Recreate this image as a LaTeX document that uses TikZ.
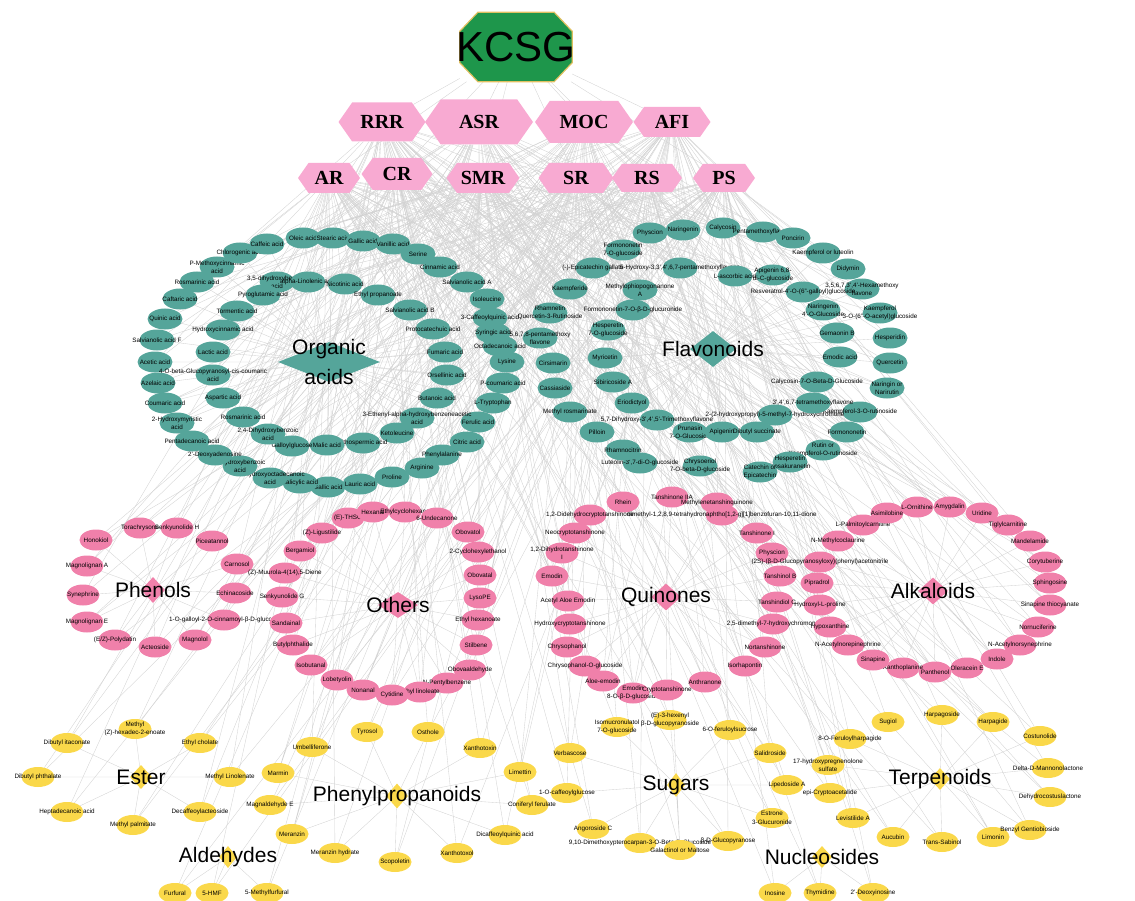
\documentclass[tikz,border=0pt]{standalone}
\usepackage{fontspec}
\setmainfont{Liberation Sans}
\newfontfamily\herbfont{Liberation Serif}
\usetikzlibrary{shapes.geometric,shapes.symbols}

\pgfdeclarelayer{edges}
\pgfsetlayers{edges,main}

\definecolor{kcsggreen}{HTML}{1E964B}
\definecolor{kcsgedge}{HTML}{E0C060}
\definecolor{herbpink}{HTML}{F8AAD2}
\definecolor{tealc}{HTML}{55A59A}
\definecolor{pinkc}{HTML}{F080AA}
\definecolor{yellowc}{HTML}{FAD84A}
\definecolor{linkgray}{HTML}{D2D2D2}

\tikzset{
    link/.style={draw=linkgray,line width=0.35pt},
    herb/.style={signal,signal to=east and west,signal pointer angle=110,
        fill=herbpink,inner sep=0pt,
        font=\herbfont\fontsize{20}{20}\selectfont\bfseries},
    hub/.style={diamond,inner sep=0pt},
    hublabel/.style={font=\fontsize{21}{30}\selectfont,align=center,inner sep=0pt},
    cmpd/.style={ellipse,inner sep=0pt,minimum width=35,minimum height=21},
    tealcmpd/.style={cmpd,fill=tealc},
    pinkcmpd/.style={cmpd,minimum width=33,fill=pinkc},
    yellowcmpd/.style={cmpd,minimum width=33,minimum height=20,fill=yellowc},
    cmpdlabel/.style={font=\fontsize{6.3}{8.5}\selectfont,align=center,inner sep=0pt},
}

% #1 style, #2 prefix, #3 class hub, #4 herb offset, #5 x/y/name list
\newcommand{\cmpdring}[5]{%
    \foreach \x/\y/\t [count=\i] in {#5}{%
        \node[#1,label={[cmpdlabel]center:\t}] (#2\i) at (\x,\y) {};
        \pgfmathtruncatemacro\ha{mod(\i+#4,10)}
        \pgfmathtruncatemacro\hb{mod(3*\i+#4+5,10)}
        \begin{pgfonlayer}{edges}
            \draw[link] (#2\i) -- (#3) (#2\i) -- (h\ha) (#2\i) -- (h\hb);
        \end{pgfonlayer}
    }%
}

\begin{document}
\begin{tikzpicture}[x=1pt,y=-1pt]
\useasboundingbox (0,0) rectangle (1135,901);

% Formula (octagon round the named node)
\node[minimum width=112,minimum height=69,inner sep=0pt] (kcsg) at (516,47) {};
\draw[fill=kcsggreen,draw=kcsgedge,line width=1.2pt]
    ([xshift=18]kcsg.north west) -- ([xshift=-18]kcsg.north east)
    -- ([yshift=-19]kcsg.north east) -- ([yshift=19]kcsg.south east)
    -- ([xshift=-18]kcsg.south east) -- ([xshift=18]kcsg.south west)
    -- ([yshift=19]kcsg.south west) -- ([yshift=-19]kcsg.north west) -- cycle;
\node[font=\fontsize{42}{42}\selectfont] at (kcsg) {KCSG};

% Herbs
\node[herb,minimum width=87,minimum height=39] (h0) at (382,122) {RRR};
\node[herb,minimum width=108,minimum height=45] (h1) at (479,122) {ASR};
\node[herb,minimum width=98,minimum height=42] (h2) at (584,122) {MOC};
\node[herb,minimum width=77,minimum height=30] (h3) at (672,122) {AFI};
\node[herb,minimum width=62,minimum height=30] (h4) at (329,178) {AR};
\node[herb,minimum width=71,minimum height=32] (h5) at (397,174) {CR};
\node[herb,minimum width=73,minimum height=30] (h6) at (483,178) {SMR};
\node[herb,minimum width=75,minimum height=30] (h7) at (576,178) {SR};
\node[herb,minimum width=70,minimum height=28] (h8) at (647,178) {RS};
\node[herb,minimum width=62,minimum height=28] (h9) at (724,178) {PS};

\begin{pgfonlayer}{edges}
    \foreach \h in {0,...,9}
        \draw[link] (kcsg) -- (h\h);
\end{pgfonlayer}

% Classes
\node[hub,fill=tealc,minimum width=102,minimum height=40,
    label={[hublabel]center:Organic\\acids}] (orga) at (329,362) {};
\node[hub,fill=tealc,minimum width=46,minimum height=36,
    label={[hublabel]center:Flavonoids}] (flav) at (713,349) {};
\node[hub,fill=pinkc,minimum width=24,minimum height=26,
    label={[hublabel]center:Phenols}] (phen) at (153,590) {};
\node[hub,fill=pinkc,minimum width=40,minimum height=26,
    label={[hublabel]center:Others}] (othr) at (398,605) {};
\node[hub,fill=pinkc,minimum width=30,minimum height=27,
    label={[hublabel]center:Quinones}] (quin) at (666,597) {};
\node[hub,fill=pinkc,minimum width=30,minimum height=27,
    label={[hublabel]center:Alkaloids}] (alka) at (933,591) {};
\node[hub,fill=yellowc,minimum width=22,minimum height=24,
    label={[hublabel]center:Ester}] (este) at (141,777) {};
\node[hub,fill=yellowc,minimum width=22,minimum height=25,
    label={[hublabel]center:Phenylpropanoids}] (phpr) at (397,796) {};
\node[hub,fill=yellowc,minimum width=18,minimum height=22,
    label={[hublabel]center:Aldehydes}] (alde) at (228,857) {};
\node[hub,fill=yellowc,minimum width=18,minimum height=24,
    label={[hublabel]center:Sugars}] (suga) at (676,785) {};
\node[hub,fill=yellowc,minimum width=20,minimum height=22,
    label={[hublabel]center:Terpenoids}] (terp) at (940,779) {};
\node[hub,fill=yellowc,minimum width=20,minimum height=22,
    label={[hublabel]center:Nucleosides}] (nucl) at (822,857) {};

% Organic acids
\cmpdring{tealcmpd}{oa}{orga}{0}{
    303/238/Oleic acid, 333/238/Stearic acid, 363/241/Gallic acid,
    393/244/Vanillic acid, 418/254/Serine, 440/267/Cinnamic acid,
    467/282/Salvianolic acid A, 487/299/Isoleucine, 490/318/3-Caffeoylquinic acid,
    493/333/Syringic acid, 500/346/Octadecanoic acid, 507/362/Lysine,
    503/383/P-coumaric acid, 493/403/L-Tryptophan, 478/422/Ferulic acid,
    467/442/Citric acid, 442/455/Phenylalanine, 422/468/Arginine,
    392/477/Proline, 360/484/Lauric acid, 328/487/Gallic acid,
    300/483/Salicylic acid, 270/478/{10-Hydroxyoctadecanoic\\acid},
    240/466/{4-Hydroxybenzoic\\acid}, 215/455/2'-Deoxyadenosine,
    192/441/Pentadecanoic acid, 177/423/{2-Hydroxymyristic\\acid},
    165/403/Coumaric acid, 158/383/Azelaic acid, 155/362/Acetic acid,
    157/340/Salvianolic acid F, 165/319/Quinic acid, 180/299/Caftaric acid,
    197/282/Rosmarinic acid, 217/267/{P-Methoxycinnamic\\acid},
    240/253/Chlorogenic acid, 267/244/Caffeic acid,
    277/282/{3,5-dihydroxybenzoic\\acid}, 308/282/alpha-Linolenic acid,
    345/284/Nicotinic acid, 378/295/Ethyl propanoate,
    410/310/Salvianolic acid B, 433/329/Protocatechuic acid,
    445/352/Fumaric acid, 447/375/Orsellinic acid, 437/398/Butanoic acid,
    417/418/{3-Ethenyl-alpha-hydroxybenzeneacetic\\acid}, 397/433/Ketoleucine,
    363/443/Lithospermic acid, 327/445/Malic acid, 292/446/Galloylglucose,
    268/434/{2,4-Dihydroxybenzoic\\acid}, 243/417/Rosmarinic acid,
    223/398/Aspartic acid, 213/375/{4-O-beta-Glucopyranosyl-cis-coumaric\\acid},
    213/352/Lactic acid, 223/330/Hydroxycinnamic acid, 237/311/Tormentic acid,
    263/295/Pyroglutamic acid}

% Flavonoids
\cmpdring{tealcmpd}{fl}{flav}{3}{
    650/233/Physcion, 683/230/Naringenin, 723/228/Calycosin,
    763/232/Pentamethoxyflavone, 793/238/Poncirin, 823/253/Kaempferol or luteolin,
    848/269/Didymin, 862/289/{3,5,6,7,3',4'-Hexamethoxy\\flavone},
    880/313/{Kaempferol\\3-O-(6''-O-acetyl)glucoside}, 890/338/Hesperidin,
    890/363/Quercetin, 887/388/{Naringin or\\Narirutin},
    860/412/Kaempferol-3-O-rutinoside, 847/432/Formononetin,
    823/450/{Rutin or\\Kaempferol-O-rutinoside}, 790/462/{Hesperetin\\Isosakuranetin},
    760/472/{Catechin or\\Epicatechin}, 700/466/{Chrysoeriol\\7-O-beta-D-glucoside},
    640/463/{Luteolin-3',7-di-O-glucoside}, 623/450/Rhamnocitrin, 597/432/Pilloin,
    570/412/Methyl rosmarinate, 555/388/Cassiaside, 553/363/Cirsimarin,
    540/338/{5,6,7,8-pentamethoxy\\flavone}, 550/313/{Rhamnetin\\Quercetin-3-Rutinoside},
    570/289/Kaempferide, 593/268/(-)-Epicatechin gallate,
    623/250/{Formononetin\\7-O-glucoside},
    680/268/{5-Hydroxy-3,3',4',6,7-pentamethoxyflavone},
    735/276/L-ascorbic acid, 640/290/{Methylophiopogonanone\\A},
    633/310/Formononetin-7-O-β-D-glucuronide, 608/330/{Hesperetin\\7-O-glucoside},
    605/358/Myricetin, 613/382/Sibiricoside A, 632/403/Eriodictyol,
    657/420/{5,7-Dihydroxy-3',4',5'-Trimethoxyflavone}, 690/432/{Prunasin\\7-O-Glucoside},
    722/432/Apigenin, 757/432/Dibutyl succinate,
    775/415/{2-(2-hydroxypropyl)-5-methyl-7-hydroxychromone},
    813/403/{3',4',6,7-tetramethoxyflavone}, 817/382/Calycosin-7-O-Beta-D-Glucoside,
    840/357/Emodic acid, 837/333/Gemaonin B, 823/310/{Naringenin\\4'-O-Glucoside},
    803/292/Resveratrol-4'-O-(6''-galloyl)glucoside,
    773/275/{Apigenin 6,8-\\di-C-glucoside}}

% Phenols
\cmpdring{pinkcmpd}{ph}{phen}{1}{
    96/540/Honokiol, 140/528/Torachrysone, 177/528/Senkyunolide H,
    212/541/Piceatannol, 87/566/Magnolignan A, 83/595/Synephrine,
    87/622/Magnolignan E, 115/640/{(E/Z)-Polydatin}, 155/647/Acteoside,
    195/640/Magnolol, 237/564/Carnosol, 235/593/Echinacoside,
    224/620/1-O-galloyl-2-O-cinnamoyl-β-D-glucose}

% Others
\cmpdring{pinkcmpd}{ot}{othr}{2}{
    348/518/(E)-THSG, 373/512/Hexanal, 405/512/Ethylcyclohexane,
    437/518/6-Undecanone, 468/532/Obovatol, 478/552/2-Cyclohexylethanol,
    480/575/Obovatal, 480/598/LysoPE, 478/620/Ethyl hexanoate,
    476/645/Stilbene, 470/670/Obovaaldehyde, 447/683/N-Pentylbenzene,
    420/692/Ethyl linoleate, 392/695/Cytidine, 363/690/Nonanal,
    337/680/Lobetyolin, 311/665/Isobutanal, 293/645/Butylphthalide,
    286/623/Sandainal, 282/597/Senkyunolide G, 285/573/{(Z)-Muurola-4(14),5-Diene},
    300/551/Bergamiol, 322/533/(Z)-Ligustilide}

% Quinones
\cmpdring{pinkcmpd}{qu}{quin}{5}{
    623/502/Rhein, 672/497/Tanshinone IIA, 717/503/Methylenetanshinquinone,
    590/515/{1,2-Didehydrocryptotanshinone},
    722/515/{dimethyl-1,2,8,9-tetrahydronaphtho[1,2-g][1]benzofuran-10,11-dione},
    575/533/Neocryptotanshinone, 562/553/{1,2-Dihydrotanshinone\\I},
    552/576/Emodin, 568/601/Acetyl Aloe Emodin, 570/624/Hydroxycryptotanshinone,
    567/647/Chrysophanol, 585/666/Chrysophanol-O-glucoside, 603/681/Aloe-emodin,
    633/693/{Emodin\\8-O-β-D-glucoside}, 667/690/Cryptotanshinone,
    705/682/Anthranone, 745/666/Isorhapontin, 765/647/Nortanshinone,
    773/624/{2,5-dimethyl-7-hydroxychromone}, 777/602/Tanshindiol C,
    780/576/Tanshinol B, 772/553/Physcion, 757/533/Tanshinone I}

% Alkaloids
\cmpdring{pinkcmpd}{al}{alka}{7}{
    863/525/L-Palmitoylcarnitine, 887/513/Asimilobine, 917/507/L-Ornithine,
    950/507/Amygdalin, 982/513/Uridine, 1008/525/Tiglylcarnitine,
    1030/541/Mandelamide, 1045/562/Corytuberine, 1050/583/Sphingosine,
    1050/605/Sinapine thiocyanate, 1038/627/Nornuciferine,
    1020/645/N-Acetylnorsynephrine, 997/659/Indole, 967/668/Oleracein E,
    935/672/Panthenol, 903/668/Xanthoplanine, 873/660/Sinapine,
    848/645/N-Acetylnorepinephrine, 830/627/Hypoxanthine,
    820/605/Hydroxyl-L-proline, 817/583/Pipradrol,
    820/562/(2S)-(β-D-Glucopyranosyloxy)(phenyl)acetonitrile,
    838/541/N-Methylcoclaurine}

% Ester
\cmpdring{yellowcmpd}{es}{este}{4}{
    135/729/{Methyl\\(Z)-hexadec-2-enoate}, 67/743/Dibutyl itaconate,
    200/743/Ethyl cholate, 38/777/Dibutyl phthalate, 230/777/Methyl Linolenate,
    67/812/Heptadecanoic acid, 200/812/Decaffeoylacteoside, 133/825/Methyl palmitate}

% Phenylpropanoids
\cmpdring{yellowcmpd}{pp}{phpr}{6}{
    312/747/Umbelliferone, 367/732/Tyrosol, 428/732/Osthole, 480/748/Xanthotoxin,
    278/773/Marmin, 270/805/Magnaldehyde E, 520/772/Limettin,
    532/805/Coniferyl ferulate, 505/835/Dicaffeoylquinic acid, 292/834/Meranzin,
    335/853/Meranzin hydrate, 395/862/Scopoletin, 457/853/Xanthotoxol}

% Aldehydes
\cmpdring{yellowcmpd}{ad}{alde}{8}{
    175/893/Furfural, 212/893/5-HMF, 267/893/5-Methylfurfural}

% Sugars
\cmpdring{yellowcmpd}{su}{suga}{9}{
    617/727/{Isomucronulatol\\7-O-glucoside}, 670/720/{(E)-3-hexenyl\\β-D-glucopyranoside},
    730/730/6-O-feruloylsucrose, 570/753/Verbascose, 770/753/Salidroside,
    567/793/1-O-caffeoylglucose, 593/829/Angoroside C,
    640/843/{9,10-Dimethoxypterocarpan-3-O-Beta-D-Glucoside},
    680/850/Galactinol or Maltose, 728/841/β-D-Glucopyranose,
    787/785/Lipedoside A, 772/818/{Estrone\\3-Glucuronide}}

% Terpenoids
\cmpdring{yellowcmpd}{te}{terp}{2}{
    888/722/Sugiol, 942/715/Harpagoside, 993/722/Harpagide,
    850/739/8-O-Feruloylharpagide, 828/765/{17-hydroxypregnenolone\\sulfate},
    830/793/epi-Cryptoacetalide, 853/818/Levistilide A, 893/837/Aucubin,
    942/842/Trans-Sabinol, 993/837/Limonin, 1040/736/Costunolide,
    1048/768/Delta-D-Mannonolactone, 1050/797/Dehydrocostuslactone,
    1030/830/Benzyl Gentiobioside}

% Nucleosides
\cmpdring{yellowcmpd}{nu}{nucl}{5}{
    775/893/Inosine, 820/893/Thymidine, 873/893/2'-Deoxyinosine}
\end{tikzpicture}
\end{document}
